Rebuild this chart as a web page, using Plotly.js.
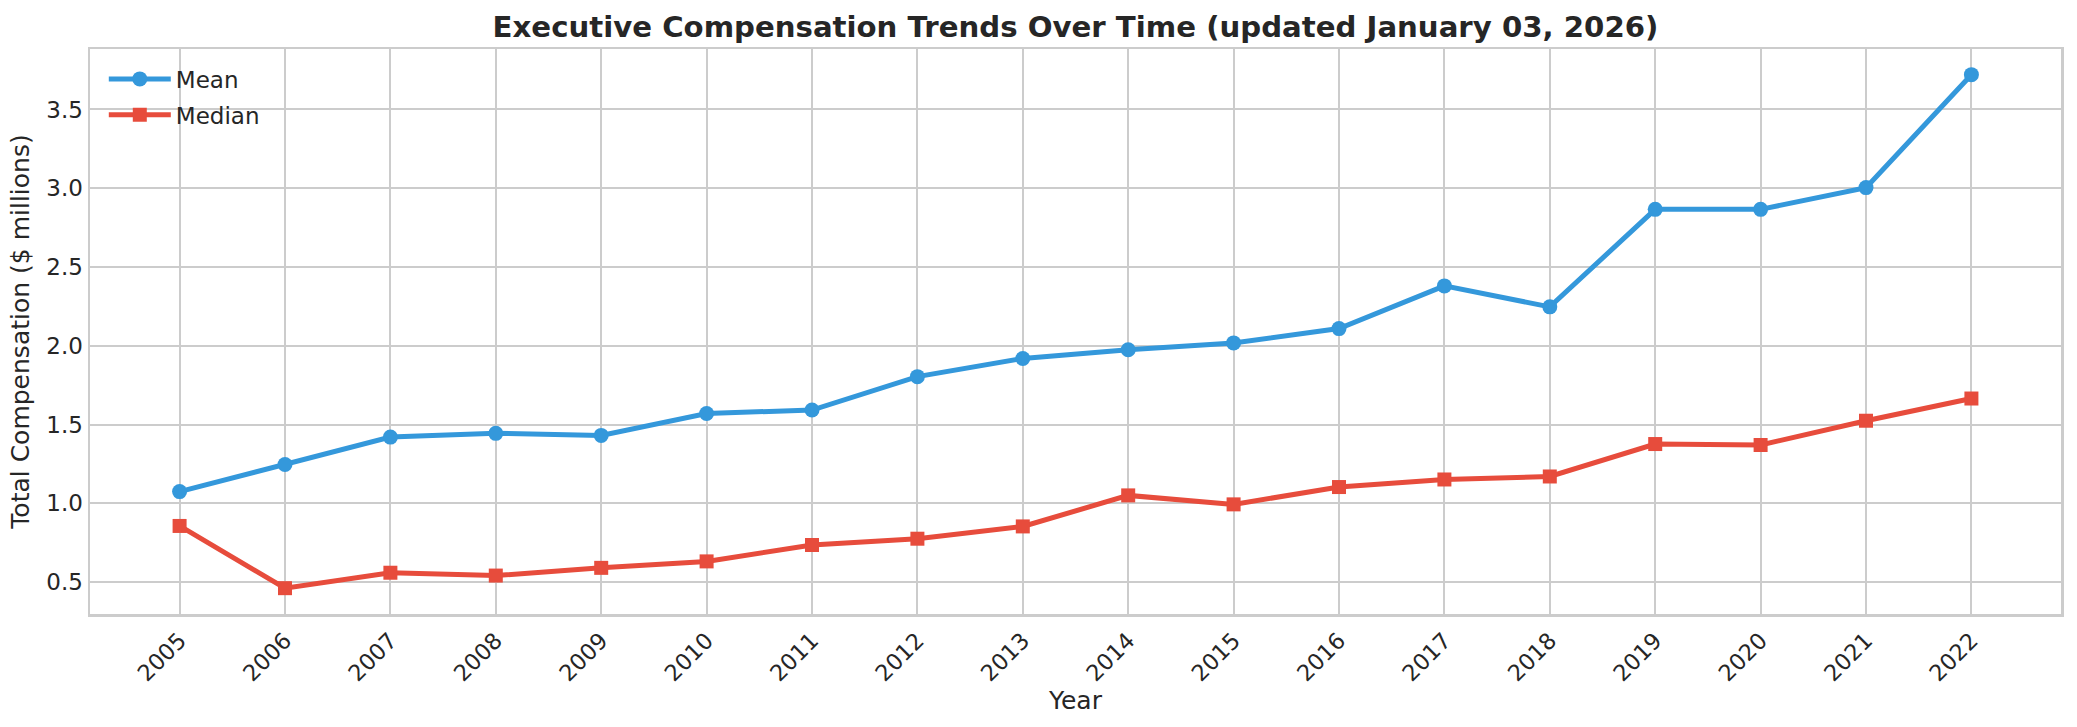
<!DOCTYPE html>
<html>
<head>
<meta charset="utf-8">
<script src="https://cdn.plot.ly/plotly-3.0.1.min.js"></script>
<style>
  html, body { margin: 0; padding: 0; background: #ffffff; }
  #chart { width: 2077px; height: 727px; }
</style>
</head>
<body>
<div id="chart"></div>
<script>
var years = [2005, 2006, 2007, 2008, 2009, 2010, 2011, 2012, 2013,
             2014, 2015, 2016, 2017, 2018, 2019, 2020, 2021, 2022];

// total compensation, $ millions
var meanComp = [1.074, 1.246, 1.420, 1.444, 1.431, 1.570, 1.592, 1.804, 1.919,
                1.975, 2.018, 2.109, 2.380, 2.247, 2.866, 2.866, 3.004, 3.721];
var medianComp = [0.856, 0.461, 0.559, 0.541, 0.590, 0.631, 0.735, 0.775, 0.853,
                  1.050, 0.993, 1.103, 1.151, 1.170, 1.376, 1.370, 1.524, 1.665];

var textColor = '#262626';
var gridColor = '#cccccc';

var mean = {
  x: years,
  y: meanComp,
  name: 'Mean',
  legendgroup: 'mean',
  type: 'scatter',
  mode: 'lines+markers',
  line: {color: '#3498db', width: 5},
  marker: {symbol: 'circle', size: 15, color: '#3498db'}
};

var median = {
  x: years,
  y: medianComp,
  name: 'Median',
  legendgroup: 'median',
  type: 'scatter',
  mode: 'lines+markers',
  line: {color: '#e74c3c', width: 5},
  marker: {symbol: 'square', size: 14, color: '#e74c3c'}
};

var layout = {
  width: 2077,
  height: 727,
  paper_bgcolor: '#ffffff',
  plot_bgcolor: '#ffffff',
  margin: {l: 90, r: 16, t: 49, b: 113},
  font: {family: 'DejaVu Sans', color: textColor, size: 23},
  title: {
    text: '<b>Executive Compensation Trends Over Time (updated January 03, 2026)</b>',
    font: {family: 'DejaVu Sans', size: 29.2, color: textColor},
    xref: 'paper', x: 0.5, xanchor: 'center',
    yref: 'container', y: 0.963, yanchor: 'middle'
  },
  xaxis: {
    title: {text: 'Year', font: {size: 25, color: textColor}, standoff: 0},
    range: [2004.15, 2022.85],
    tickmode: 'array',
    tickvals: years,
    ticktext: years.map(String),
    tickangle: -45,
    tickfont: {size: 22.5, color: textColor},
    ticklabelstandoff: 2,
    showgrid: true, gridcolor: gridColor, gridwidth: 2,
    showline: true, mirror: true, linecolor: gridColor, linewidth: 2.5,
    zeroline: false,
    ticks: ''
  },
  yaxis: {
    title: {text: 'Total Compensation ($ millions)', font: {size: 25, color: textColor}, standoff: 10},
    range: [0.297, 3.884],
    dtick: 0.5,
    tick0: 0.5,
    tickformat: '.1f',
    tickfont: {size: 23, color: textColor},
    showgrid: true, gridcolor: gridColor, gridwidth: 2,
    showline: true, mirror: true, linecolor: gridColor, linewidth: 2.5,
    zeroline: false,
    ticks: ''
  },
  legend: {
    x: 0.007, y: 0.985, xanchor: 'left', yanchor: 'top',
    bgcolor: 'rgba(255,255,255,0)',
    font: {size: 23, color: textColor},
    itemwidth: 62,
    tracegroupgap: 3
  },
  showlegend: true
};

Plotly.newPlot('chart', [mean, median], layout, {displayModeBar: false, staticPlot: true});
</script>
</body>
</html>
